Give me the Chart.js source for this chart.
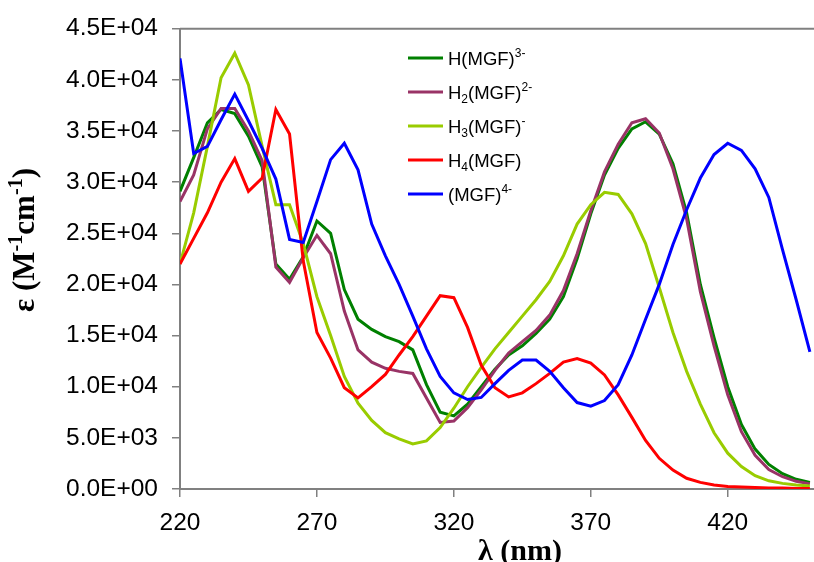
<!DOCTYPE html>
<html>
<head>
<meta charset="utf-8">
<script src="https://cdn.jsdelivr.net/npm/chart.js@4.4.0/dist/chart.umd.min.js"></script>
<style>
  html, body { margin: 0; padding: 0; background: #fff; }
  #wrap { width: 814px; height: 562px; }
</style>
</head>
<body>
<div id="wrap"><canvas id="chart" width="814" height="562"></canvas></div>
<script>
// wavelength in nm, one point every 5 nm
const wavelengths = [220, 225, 230, 235, 240, 245, 250, 255, 260, 265,
  270, 275, 280, 285, 290, 295, 300, 305, 310, 315,
  320, 325, 330, 335, 340, 345, 350, 355, 360, 365,
  370, 375, 380, 385, 390, 395, 400, 405, 410, 415,
  420, 425, 430, 435, 440, 445, 450];

// epsilon (M-1 cm-1)
const hMGF = [29100, 32400, 35800, 37100, 36700, 34500, 31500, 22000, 20500, 22700,
  26200, 25000, 19500, 16600, 15600, 14900, 14400, 13600, 10200, 7500,
  7150, 8300, 10000, 11700, 13100, 14000, 15200, 16600, 18800, 22500,
  26900, 30700, 33300, 35200, 35900, 34700, 31800, 27000, 20000, 14800,
  10000, 6300, 3900, 2400, 1500, 950, 650];
const h2MGF = [28100, 30700, 35200, 37200, 37200, 35000, 32100, 21700, 20200, 22600,
  24800, 23000, 17400, 13600, 12400, 11800, 11500, 11300, 8900, 6500,
  6650, 7950, 9700, 11600, 13300, 14400, 15500, 17000, 19400, 23000,
  27200, 31000, 33700, 35800, 36200, 34800, 31300, 26400, 19300, 14000,
  9200, 5600, 3300, 1900, 1200, 750, 500];
const h3MGF = [22000, 27000, 33500, 40200, 42600, 39500, 33500, 27800, 27800, 24000,
  18800, 15000, 11000, 8400, 6700, 5500, 4900, 4400, 4700, 6000,
  7900, 10000, 11900, 13700, 15300, 16900, 18500, 20300, 22800, 25900,
  27800, 29000, 28800, 26900, 24000, 19700, 15300, 11500, 8300, 5500,
  3500, 2200, 1300, 800, 550, 400, 300];
const h4MGF = [22000, 24500, 27000, 30000, 32300, 29100, 30400, 37100, 34700, 22300,
  15300, 12800, 9900, 8900, 10000, 11200, 13100, 14900, 16900, 18900,
  18700, 15800, 12100, 9900, 9000, 9400, 10300, 11300, 12400, 12750,
  12300, 11150, 9200, 7000, 4750, 3000, 1850, 1050, 650, 400,
  250, 200, 150, 100, 100, 50, 50];
const MGF4 = [42100, 32800, 33500, 36100, 38600, 36000, 33300, 30300, 24400, 24100,
  28100, 32200, 33800, 31200, 25900, 22800, 20000, 16900, 13700, 11000,
  9400, 8750, 8950, 10300, 11600, 12600, 12600, 11500, 9900, 8450,
  8100, 8650, 10200, 13100, 16600, 20000, 23900, 27300, 30400, 32700,
  33800, 33100, 31300, 28500, 23400, 18500, 13400];

// _{..} = subscript, ^{..} = superscript
const seriesNames = ['H(MGF)^{3-}', 'H_{2}(MGF)^{2-}', 'H_{3}(MGF)^{-}', 'H_{4}(MGF)', '(MGF)^{4-}'];
const seriesColors = ['#008000', '#993366', '#99CC00', '#FF0000', '#0000FF'];
const seriesValues = [hMGF, h2MGF, h3MGF, h4MGF, MGF4];
const xTicks = [220, 270, 320, 370, 420];

const axisGray = '#808080';
const sans = '"Liberation Sans", Arial, sans-serif';
const serif = '"Liberation Serif", "Times New Roman", serif';

// split "H_{2}(MGF)^{2-}" into plain / sub / sup pieces
function parseRich(str) {
  const parts = [];
  const re = /([_^])\{([^}]*)\}|([^_^]+)/g;
  let m;
  while ((m = re.exec(str)) !== null) {
    if (m[3]) parts.push({ t: m[3], k: 'n' });
    else parts.push({ t: m[2], k: m[1] === '_' ? 'sub' : 'sup' });
  }
  return parts;
}

function richWidth(ctx, parts, size, family, weight) {
  let w = 0;
  parts.forEach(p => {
    const s = p.k === 'n' ? size : size * 0.65;
    ctx.font = weight + ' ' + s + 'px ' + family;
    w += ctx.measureText(p.t).width;
  });
  return w;
}

function drawRich(ctx, str, x, y, size, family, weight) {
  const parts = parseRich(str);
  let cx = x;
  parts.forEach(p => {
    let s = size, dy = 0;
    if (p.k === 'sub') { s = size * 0.65; dy = size * 0.22; }
    if (p.k === 'sup') { s = size * 0.65; dy = -size * 0.4; }
    ctx.font = weight + ' ' + s + 'px ' + family;
    ctx.fillText(p.t, cx, y + dy);
    cx += ctx.measureText(p.t).width;
  });
}

const extras = {
  id: 'extras',
  afterDraw(chart) {
    const ctx = chart.ctx;
    const a = chart.chartArea;
    ctx.save();

    // frame line along the top of the plot
    ctx.strokeStyle = axisGray;
    ctx.lineWidth = 2;
    ctx.beginPath();
    ctx.moveTo(a.left, a.top);
    ctx.lineTo(a.right, a.top);
    ctx.stroke();

    // legend inside the plot
    ctx.fillStyle = '#000';
    ctx.textBaseline = 'alphabetic';
    ctx.textAlign = 'left';
    chart.data.datasets.forEach((ds, i) => {
      const ly = 58 + i * 34;
      ctx.strokeStyle = ds.borderColor;
      ctx.lineWidth = 3;
      ctx.beginPath();
      ctx.moveTo(408, ly);
      ctx.lineTo(443, ly);
      ctx.stroke();
      drawRich(ctx, ds.label, 448, ly + 6.5, 18.5, sans, 'normal');
    });

    // axis titles
    ctx.fillStyle = '#000';
    ctx.font = 'bold 30px ' + serif;
    ctx.textAlign = 'center';
    ctx.fillText('λ (nm)', 520, 560);

    const yTitle = 'ε (M^{-1}cm^{-1})';
    const w = richWidth(ctx, parseRich(yTitle), 31, serif, 'bold');
    ctx.translate(34, 240);
    ctx.rotate(-Math.PI / 2);
    ctx.textAlign = 'left';
    drawRich(ctx, yTitle, -w / 2, 0, 31, serif, 'bold');

    ctx.restore();
  }
};

new Chart(document.getElementById('chart'), {
  type: 'line',
  data: {
    datasets: seriesValues.map((vals, i) => ({
      label: seriesNames[i],
      data: wavelengths.map((w, j) => ({ x: w, y: vals[j] })),
      borderColor: seriesColors[i],
      backgroundColor: seriesColors[i],
      borderWidth: 3,
      pointRadius: 0,
      tension: 0,
      fill: false,
      order: seriesValues.length - 1 - i
    }))
  },
  options: {
    responsive: false,
    animation: false,
    devicePixelRatio: 1,
    layout: { padding: { left: 0, right: 0, top: 20, bottom: 0 } },
    plugins: {
      legend: { display: false },
      tooltip: { enabled: false }
    },
    scales: {
      x: {
        type: 'linear',
        min: 220,
        max: 451.5,
        afterBuildTicks: (scale) => { scale.ticks = xTicks.map(v => ({ value: v })); },
        afterFit: (scale) => { scale.height = 73; },
        grid: { display: true, drawOnChartArea: false, drawTicks: true, tickLength: 8, color: axisGray, lineWidth: 1.5 },
        border: { display: true, color: axisGray, width: 2 },
        ticks: {
          color: '#000',
          padding: 12,
          maxRotation: 0,
          font: { family: sans, size: 24.5 }
        }
      },
      y: {
        min: 0,
        max: 45000,
        afterFit: (scale) => { scale.width = 180; },
        grid: { display: true, drawOnChartArea: false, drawTicks: true, tickLength: 8, color: axisGray, lineWidth: 1.5 },
        border: { display: true, color: axisGray, width: 2 },
        ticks: {
          stepSize: 5000,
          color: '#000',
          padding: 14,
          font: { family: sans, size: 24.5 },
          callback: (v) => {
            const [m, e] = Number(v).toExponential(1).split('e');
            const n = Math.abs(parseInt(e, 10));
            return m + 'E' + (e[0] === '-' ? '-' : '+') + (n < 10 ? '0' : '') + n;
          }
        }
      }
    }
  },
  plugins: [extras]
});
</script>
</body>
</html>
